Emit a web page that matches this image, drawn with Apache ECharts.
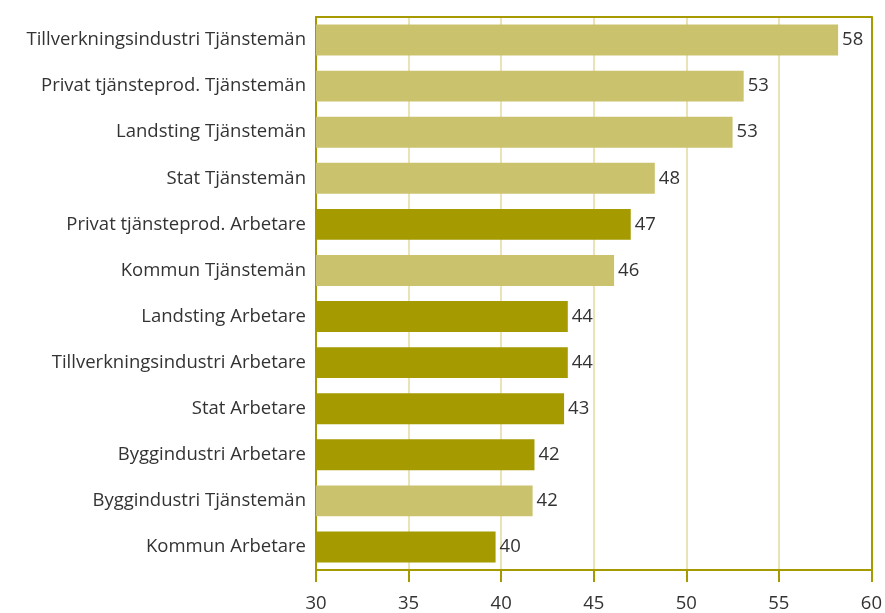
<!DOCTYPE html>
<html>
<head>
<meta charset="utf-8">
<script src="https://cdn.jsdelivr.net/npm/echarts@6/dist/echarts.min.js"></script>
<style>
  html, body { margin: 0; padding: 0; background: #fff; }
  #chart { width: 885px; height: 613px; }
</style>
</head>
<body>
<div id="chart"></div>
<script>
// kategorier uppifrån och ned
var categories = [
  'Tillverkningsindustri Tjänstemän',
  'Privat tjänsteprod. Tjänstemän',
  'Landsting Tjänstemän',
  'Stat Tjänstemän',
  'Privat tjänsteprod. Arbetare',
  'Kommun Tjänstemän',
  'Landsting Arbetare',
  'Tillverkningsindustri Arbetare',
  'Stat Arbetare',
  'Byggindustri Arbetare',
  'Byggindustri Tjänstemän',
  'Kommun Arbetare'
];
var values = [58.2, 53.1, 52.5, 48.3, 47.0, 46.1, 43.6, 43.6, 43.4, 41.8, 41.7, 39.7];
// T = tjänstemän, A = arbetare
var groups = ['T', 'T', 'T', 'T', 'A', 'T', 'A', 'A', 'A', 'A', 'T', 'A'];
var xTicks = [30, 35, 40, 45, 50, 55, 60];

var colors = { T: '#CBC26D', A: '#A59A00' };
var font = '"Open Sans", sans-serif';
var olive = '#A59A00';

var myChart = echarts.init(document.getElementById('chart'));
var option = {
  animation: false,
  grid: { left: 316, right: 11, top: 17, bottom: 43 },
  xAxis: [{
    type: 'value',
    min: xTicks[0],
    max: xTicks[xTicks.length - 1],
    interval: 5,
    axisLine: { show: true, lineStyle: { color: olive, width: 2 } },
    axisTick: { show: true, length: 12, lineStyle: { color: olive, width: 2 } },
    axisLabel: { color: '#333', fontSize: 18.5, fontFamily: font, margin: 24 },
    splitLine: { show: true, showMinLine: false, showMaxLine: false, lineStyle: { color: '#EAE3B8', width: 2 } }
  }, {
    // ram upptill
    type: 'value',
    position: 'top',
    min: xTicks[0],
    max: xTicks[xTicks.length - 1],
    axisLine: { show: true, lineStyle: { color: olive, width: 2 } },
    axisTick: { show: false },
    axisLabel: { show: false },
    splitLine: { show: false }
  }],
  yAxis: [{
    type: 'category',
    inverse: true,
    data: categories,
    axisLine: { show: true, lineStyle: { color: olive, width: 2 } },
    axisTick: { show: false },
    axisLabel: { color: '#333', fontSize: 18.5, fontFamily: font, margin: 10 }
  }, {
    // ram till höger
    type: 'category',
    position: 'right',
    inverse: true,
    data: categories,
    axisLine: { show: true, lineStyle: { color: olive, width: 2 } },
    axisTick: { show: false },
    axisLabel: { show: false },
    splitLine: { show: false }
  }],
  series: [{
    type: 'bar',
    barCategoryGap: '33%',
    data: values.map(function (v, i) {
      return { value: v, itemStyle: { color: colors[groups[i]] } };
    }),
    label: {
      show: true,
      position: 'right',
      distance: 4,
      color: '#333',
      fontSize: 18.5,
      fontFamily: font,
      formatter: function (p) { return Math.round(p.value); }
    }
  }]
};
myChart.setOption(option);
</script>
</body>
</html>
